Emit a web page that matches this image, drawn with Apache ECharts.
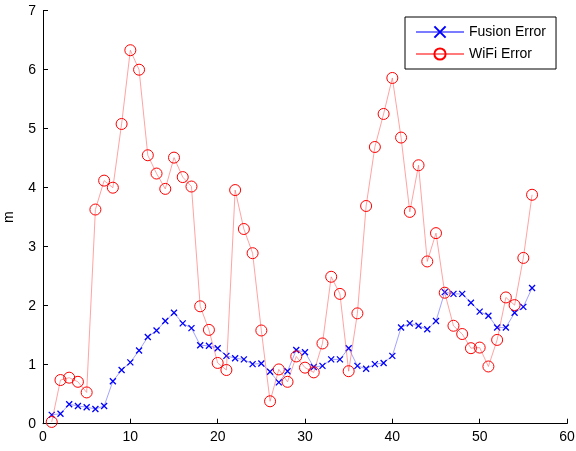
<!DOCTYPE html>
<html>
<head>
<meta charset="utf-8">
<script src="https://cdn.jsdelivr.net/npm/echarts@6/dist/echarts.min.js"></script>
<style>html,body{margin:0;padding:0;background:#fff}#c{width:576px;height:451px}</style>
</head>
<body>
<div id="c"></div>
<script>
const xIndex = [1,2,3,4,5,6,7,8,9,10,11,12,13,14,15,16,17,18,19,20,21,22,23,24,25,26,27,28,29,30,31,32,33,34,35,36,37,38,39,40,41,42,43,44,45,46,47,48,49,50,51,52,53,54,55,56];
const fusionError = [0.15,0.17,0.33,0.30,0.28,0.25,0.30,0.72,0.91,1.04,1.24,1.47,1.58,1.74,1.88,1.70,1.62,1.33,1.32,1.28,1.15,1.11,1.09,1.01,1.02,0.88,0.70,0.89,1.25,1.21,0.96,0.98,1.09,1.09,1.28,0.98,0.93,1.01,1.03,1.15,1.63,1.70,1.66,1.60,1.74,2.23,2.20,2.20,2.05,1.90,1.83,1.63,1.63,1.88,1.98,2.30];
const wifiError = [0.03,0.74,0.78,0.71,0.53,3.63,4.12,4.00,5.08,6.33,6.00,4.55,4.24,3.98,4.51,4.18,4.02,1.99,1.59,1.03,0.91,3.96,3.30,2.89,1.58,0.38,0.92,0.71,1.14,0.95,0.87,1.36,2.49,2.20,0.89,1.87,3.69,4.69,5.25,5.86,4.85,3.59,4.38,2.75,3.23,2.22,1.66,1.52,1.28,1.29,0.97,1.42,2.14,2.01,2.81,3.88];
const xTicks = [0,10,20,30,40,50,60];
const yTicks = [0,1,2,3,4,5,6,7];
const seriesNames = ['Fusion Error','WiFi Error'];

const font = 'Liberation Sans, Arial, sans-serif';
const chart = echarts.init(document.getElementById('c'), null, {renderer:'canvas'});
const pairs = arr => arr.map((v,i) => [xIndex[i], v]);
chart.setOption({
  animation:false,
  backgroundColor:'#fff',
  grid:{left:43, right:9, top:10.7, bottom:27.3, containLabel:false, outerBoundsMode:'none'},
  legend:{
    orient:'vertical', left:405, top:17, padding:[8,10,8,10], itemGap:8,
    itemWidth:48, itemHeight:14,
    backgroundColor:'#fff', borderColor:'#000', borderWidth:1, borderRadius:0,
    textStyle:{fontFamily:font, fontSize:14, color:'#000'},
    data:seriesNames
  },
  xAxis:{
    type:'value', min:xTicks[0], max:xTicks[xTicks.length-1], interval:10,
    axisLine:{lineStyle:{color:'#000', width:1}},
    axisTick:{inside:true, length:5, lineStyle:{color:'#000'}},
    axisLabel:{color:'#000', fontFamily:font, fontSize:14, margin:6},
    splitLine:{show:false}
  },
  yAxis:{
    type:'value', min:yTicks[0], max:yTicks[yTicks.length-1], interval:1,
    name:'m', nameLocation:'middle', nameGap:27, nameRotate:90,
    nameTextStyle:{color:'#000', fontFamily:font, fontSize:14},
    axisLine:{show:true, lineStyle:{color:'#000', width:1}},
    axisTick:{show:true, inside:true, length:5, lineStyle:{color:'#000'}},
    axisLabel:{color:'#000', fontFamily:font, fontSize:14, margin:7},
    splitLine:{show:false}
  },
  series:[
    {
      name:seriesNames[0], type:'line', data:pairs(fusionError),
      symbol:'path://M0,0L10,10M10,0L0,10', symbolSize:6, showAllSymbol:true,
      lineStyle:{color:'rgba(90,90,255,0.8)', width:0.7},
      itemStyle:{color:'#0000ff', borderColor:'#0000ff', borderWidth:1.3},
      z:2
    },
    {
      name:seriesNames[1], type:'line', data:pairs(wifiError),
      symbol:'circle', symbolSize:11, showAllSymbol:true,
      lineStyle:{color:'rgba(255,90,90,0.8)', width:0.7},
      itemStyle:{color:'rgba(0,0,0,0)', borderColor:'#ff0000', borderWidth:1},
      z:3
    }
  ]
});
</script>
</body>
</html>
